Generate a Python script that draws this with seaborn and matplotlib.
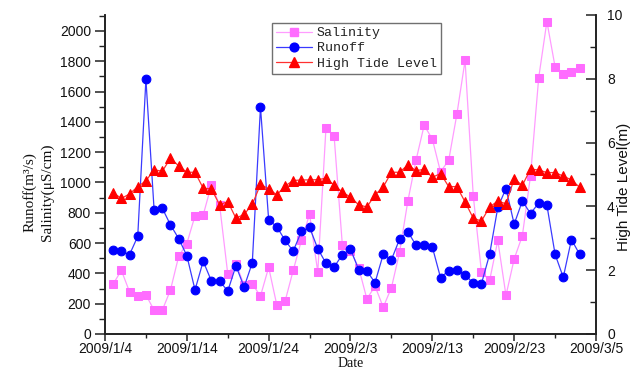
import matplotlib
matplotlib.use("Agg")
import matplotlib.pyplot as plt
import seaborn as sns
import pandas as pd
import numpy as np
from matplotlib.lines import Line2D

# ---------------- data ----------------
start_date = "2009-01-05"
n_days = 58
salinity = [330, 420, 278, 248, 258, 157, 157, 290, 512, 597,
            780, 785, 983, 853, 397, 465, 322, 330, 250, 440,
            190, 215, 420, 617, 790, 408, 1358, 1304, 590, 550,
            437, 232, 315, 177, 305, 540, 875, 1145, 1377, 1286,
            1070, 1146, 1450, 1805, 913, 410, 353, 617, 254, 495,
            648, 1045, 1692, 2062, 1763, 1714, 1730, 1753]
runoff = [556, 545, 524, 644, 1680, 820, 830, 720, 630, 517,
          291, 480, 350, 350, 283, 450, 310, 470, 1497, 752,
          708, 618, 547, 677, 703, 563, 467, 442, 523, 560,
          425, 415, 339, 526, 490, 626, 676, 586, 586, 574,
          372, 418, 425, 392, 334, 331, 526, 835, 960, 725,
          877, 795, 864, 850, 526, 374, 623, 526]
tide = [4.43, 4.25, 4.39, 4.62, 4.80, 5.15, 5.10, 5.51, 5.27, 5.07,
        5.07, 4.57, 4.55, 4.05, 4.15, 3.63, 3.75, 4.06, 4.69, 4.55,
        4.36, 4.64, 4.81, 4.83, 4.83, 4.84, 4.88, 4.67, 4.45, 4.29,
        4.05, 3.98, 4.36, 4.61, 5.07, 5.07, 5.30, 5.12, 5.16, 4.91,
        5.03, 4.62, 4.62, 4.14, 3.63, 3.54, 3.98, 4.17, 4.08, 4.86,
        4.66, 5.17, 5.14, 5.06, 5.06, 4.95, 4.83, 4.60]
x_start, x_end = "2009-01-04", "2009-03-05"
labels = ["Salinity", "Runoff", "High Tide Level"]
xlabel = "Date"
ylabel_left = "Runoff(m³/s)\nSalinity(μS/cm)"
ylabel_right = "High Tide Level(m)"

dates = pd.date_range(start_date, periods=n_days, freq="D")
df = pd.DataFrame({"Date": dates, "Salinity": salinity,
                   "Runoff": runoff, "Tide": tide})

# ---------------- style ----------------
sns.set_theme(style="ticks")
plt.rcParams["font.family"] = ["Liberation Sans", "DejaVu Sans"]

fig = plt.figure(figsize=(6.43, 3.73), dpi=100)
ax = fig.add_axes([0.1633, 0.1046, 0.7636, 0.8552])
ax2 = ax.twinx()

sal_c, sal_line = "#ff6cff", "#ff9cff"
run_c, run_line = "#0000ff", "#3a3aff"
tide_c, tide_line = "#ff0000", "#ff3030"

sns.lineplot(data=df, x="Date", y="Salinity", ax=ax, color=sal_line,
             lw=0.9, marker="s", markersize=5.2, markerfacecolor=sal_c,
             markeredgecolor=sal_c, legend=False)
sns.lineplot(data=df, x="Date", y="Runoff", ax=ax, color=run_line,
             lw=0.9, marker="o", markersize=6.3, markerfacecolor=run_c,
             markeredgecolor=run_c, legend=False)
sns.lineplot(data=df, x="Date", y="Tide", ax=ax2, color=tide_line,
             lw=0.9, marker="^", markersize=7.4, markerfacecolor=tide_c,
             markeredgecolor=tide_c, legend=False)

# axes limits & ticks
x0, x1 = pd.Timestamp(x_start), pd.Timestamp(x_end)
ax.set_xlim(x0, x1)
ax.set_ylim(0, 2105)
ax2.set_ylim(0, 10)

major = pd.date_range(x0, x1, freq="10D")
minor = pd.date_range(x0, x1, freq="5D")
ax.set_xticks(major)
ax.set_xticklabels([f"{d.year}/{d.month}/{d.day}" for d in major])
ax.set_xticks(minor, minor=True)
ax.set_yticks(np.arange(0, 2001, 200))
ax.set_yticks(np.arange(0, 2101, 100), minor=True)
ax2.set_yticks(np.arange(0, 11, 2))
ax2.set_yticks(np.arange(0, 11, 1), minor=True)

for a in (ax, ax2):
    a.spines["top"].set_visible(False)
    for s in a.spines.values():
        s.set_linewidth(1.2)
        s.set_color("#222222")
    a.grid(False)

ax.tick_params(axis="both", which="major", direction="out", length=7,
               width=1.1, labelsize=10, pad=3, colors="#222222",
               labelcolor="#111111")
ax.tick_params(axis="x", which="major", length=5, pad=1)
ax.tick_params(axis="both", which="minor", direction="out", length=4,
               width=1.0, colors="#222222")
ax.tick_params(axis="x", which="minor", length=3)
ax2.tick_params(axis="y", which="major", direction="in", length=7,
                width=1.1, labelsize=10, pad=8, colors="#222222",
                labelcolor="#111111")
ax2.tick_params(axis="y", which="minor", direction="in", length=4,
                width=1.0, colors="#222222")

# labels
ax.set_xlabel(xlabel, family=["Liberation Serif", "DejaVu Serif"],
              fontsize=10, color="#111111")
ax.xaxis.set_label_coords(0.5, -0.073)
ax.set_ylabel(ylabel_left, family=["Liberation Serif", "DejaVu Serif"],
              fontsize=11, linespacing=1.35, color="#111111")
ax.yaxis.set_label_coords(-0.104, 0.445)
ax2.set_ylabel(ylabel_right, fontsize=11, color="#111111")
ax2.yaxis.set_label_coords(1.043, 0.46)

# legend
handles = [
    Line2D([], [], color=sal_line, lw=0.9, marker="s", markersize=5.2,
           markerfacecolor=sal_c, markeredgecolor=sal_c),
    Line2D([], [], color=run_line, lw=0.9, marker="o", markersize=6.3,
           markerfacecolor=run_c, markeredgecolor=run_c),
    Line2D([], [], color=tide_line, lw=0.9, marker="^", markersize=7.4,
           markerfacecolor=tide_c, markeredgecolor=tide_c),
]
leg = ax2.legend(handles, labels, loc="upper left",
                 bbox_to_anchor=(0.423, 0.938),
                 bbox_transform=fig.transFigure, borderaxespad=0,
                 frameon=True, fancybox=False, framealpha=1,
                 edgecolor="#707070", borderpad=0.3, handlelength=2.7,
                 handletextpad=0.4, labelspacing=0.22,
                 prop={"family": ["Liberation Mono", "DejaVu Sans Mono"],
                       "size": 9.5})
leg.get_frame().set_linewidth(1.0)
for t in leg.get_texts():
    t.set_color("#222222")

fig.savefig("out.png", dpi=100, facecolor="white")
